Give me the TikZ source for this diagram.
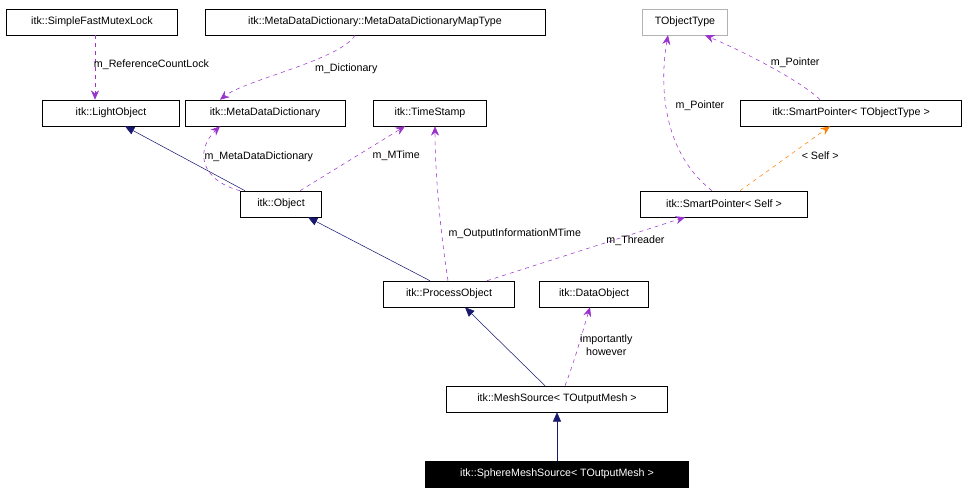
\documentclass[tikz,border=0pt]{standalone}
\usepackage{fontspec}
\setmainfont{Liberation Sans}
\usetikzlibrary{arrows.meta}
\begin{document}
\begin{tikzpicture}[x=0.75pt,y=-0.75pt,
  box/.style={draw=black,fill=white,minimum height=19.5pt,inner sep=2pt,font=\fontsize{8}{9.5}\selectfont,anchor=center},
  inh/.style={draw={rgb,255:red,25;green,25;blue,112},-{Triangle[length=7pt,width=6pt,fill={rgb,255:red,25;green,25;blue,112}]}},
  use/.style={draw={rgb,255:red,154;green,50;blue,205},dashed,-{Stealth[length=7pt,width=6pt]}},
  tmpl/.style={draw=orange,dashed,-{Stealth[length=7pt,width=6pt]}},
  lab/.style={font=\fontsize{8}{9.5}\selectfont,inner sep=1pt}]
\useasboundingbox (0,0) rectangle (967,495);
\node[box,minimum width=128pt] (mutex) at (92,22) {itk::SimpleFastMutexLock};
\node[box,minimum width=255pt] (map) at (375,22) {itk::MetaDataDictionary::MetaDataDictionaryMapType};
\node[box,draw=gray!60,minimum width=64pt] (tobj) at (685,22) {TObjectType};
\node[box,minimum width=103pt] (light) at (111,113) {itk::LightObject};
\node[box,minimum width=120pt] (mdd) at (265,113) {itk::MetaDataDictionary};
\node[box,minimum width=85pt] (ts) at (430,113) {itk::TimeStamp};
\node[box,minimum width=166pt] (spt) at (851,113) {itk::SmartPointer< TObjectType >};
\node[box,minimum width=61pt] (obj) at (281,204) {itk::Object};
\node[box,minimum width=125pt] (sps) at (724,204) {itk::SmartPointer< Self >};
\node[box,minimum width=98pt] (po) at (449,294) {itk::ProcessObject};
\node[box,minimum width=82pt] (do) at (594,294) {itk::DataObject};
\node[box,minimum width=166pt] (ms) at (557,399) {itk::MeshSource< TOutputMesh >};
\node[box,fill=black,text=white,minimum width=197pt] (sms) at (557,474) {itk::SphereMeshSource< TOutputMesh >};

\draw[use] (mutex.south -| 95,0) -- node[lab,right,xshift=-2pt,pos=0.45]{m\_ReferenceCountLock} (light.north -| 95,0);
\draw[use] (map.south -| 355,0) .. controls (340,60) and (245,80) .. node[lab,pos=0.4,right,xshift=4pt,yshift=-4pt]{m\_Dictionary} (mdd.north -| 220,0);
\draw[use] (spt.north -| 820,0) .. controls (800,80) and (740,50) .. node[lab,pos=0.45,above right,xshift=-4pt]{m\_Pointer} (tobj.south -| 705,0);
\draw[use] (sps.north -| 712,0) .. controls (660,150) and (660,80) .. node[lab,pos=0.55,right,xshift=6pt]{m\_Pointer} (tobj.south -| 668,0);
\draw[tmpl] (sps.north -| 740,0) -- node[lab,pos=0.55,right,xshift=8pt]{< Self >} (spt.south -| 830,0);
\draw[inh] (obj.north -| 245,0) -- (light.south -| 125,0);
\draw[use] (obj.north -| 240,0) .. controls (200,180) and (195,150) .. (mdd.south -| 220,0);
\node[lab,anchor=west] at (203,157) {m\_MetaDataDictionary};
\draw[use] (obj.north -| 300,0) -- node[lab,pos=0.55,right,xshift=10pt]{m\_MTime} (ts.south -| 405,0);
\draw[inh] (po.north -| 430,0) -- (obj.south -| 308,0);
\draw[use] (po.north -| 448,0) .. controls (440,230) and (435,170) .. node[lab,pos=0.3,right,xshift=4pt]{m\_OutputInformationMTime} (ts.south -| 435,0);
\draw[use] (po.north -| 487,0) -- node[lab,pos=0.75,below,xshift=0pt,yshift=-1pt]{m\_Threader} (sps.south -| 685,0);
\draw[inh] (ms.north -| 545,0) -- (po.south -| 465,0);
\draw[use] (ms.north -| 565,0) .. controls (575,360) and (580,340) .. node[lab,pos=0.55,right,align=center,xshift=0pt]{importantly\\however} (do.south -| 590,0);
\draw[inh] (sms.north) -- (ms.south);
\end{tikzpicture}
\end{document}
